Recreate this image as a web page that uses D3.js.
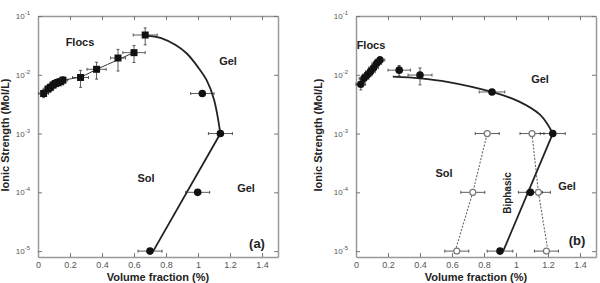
<!DOCTYPE html>
<html>
<head>
<meta charset="utf-8">
<script src="https://cdn.jsdelivr.net/npm/d3@7"></script>
<style>
  body { margin: 0; background: #fff; }
  text { font-family: "Liberation Sans", Arial, sans-serif; }
</style>
</head>
<body>
<script>
const width = 600;
const height = 283;

// ---- data ----
const xTicks = [0, 0.2, 0.4, 0.6, 0.8, 1, 1.2, 1.4];
const yTicks = [1e-1, 1e-2, 1e-3, 1e-4, 1e-5];

// panel (a): [volume fraction, ionic strength, x error, y error (relative)]
const flocsA = [
  [0.035, 0.0048, 0.03, 0.15], [0.062, 0.0057, 0.03, 0.15], [0.077, 0.0061, 0.03, 0.15],
  [0.094, 0.0067, 0.03, 0.15], [0.108, 0.0071, 0.03, 0.15], [0.123, 0.0074, 0.03, 0.15],
  [0.14, 0.0076, 0.03, 0.15], [0.156, 0.0081, 0.03, 0.15], [0.266, 0.0090, 0.05, 0.32],
  [0.366, 0.0124, 0.06, 0.32], [0.5, 0.0193, 0.047, 0.4], [0.6, 0.0238, 0.07, 0.32],
  [0.67, 0.0475, 0.075, 0.32]
];
const gelA = [[1.027, 0.0048, 0.073, 0], [1.14, 0.001, 0.075, 0], [0.998, 1e-4, 0.075, 0], [0.70, 1e-5, 0.075, 0]];
const flocsFitA = [[0.03, 0.0047], [0.15, 0.0078], [0.27, 0.0093], [0.37, 0.0125], [0.5, 0.018], [0.6, 0.024]];
const gelCurveA = [[0.67, 0.047], [0.77, 0.042], [0.86, 0.032], [0.93, 0.023], [1.0, 0.0135], [1.054, 0.0081], [1.10, 0.0038], [1.14, 0.001]];
const gelLineA = [[0.72, 1e-5], [1.14, 1e-3]];

// panel (b)
const flocsB = [
  [0.03, 0.0069, 0.03, 0.2], [0.05, 0.0087, 0.03, 0.15], [0.07, 0.0099, 0.03, 0.15],
  [0.09, 0.0113, 0.03, 0.15], [0.11, 0.0132, 0.03, 0.15], [0.13, 0.0157, 0.03, 0.15],
  [0.15, 0.0178, 0.03, 0.15], [0.27, 0.012, 0.07, 0.2], [0.40, 0.0099, 0.075, 0.32]
];
const gelB = [[0.85, 0.0051, 0.08, 0], [1.23, 0.001, 0.078, 0], [1.09, 1e-4, 0.075, 0], [0.90, 1e-5, 0.08, 0]];
const openB = [[0.82, 1e-3, 0.075], [1.10, 1e-3, 0.075], [0.73, 1e-4, 0.075], [1.14, 1e-4, 0.075], [0.63, 1e-5, 0.075], [1.19, 1e-5, 0.075]];
const gelCurveB = [[0.23, 0.0093], [0.40, 0.0087], [0.57, 0.0076], [0.85, 0.0051], [1.02, 0.0035], [1.15, 0.0021], [1.20, 0.0014], [1.23, 0.001]];
const gelLineB = [[0.92, 1e-5], [1.23, 1e-3]];
const solLineB = [[0.62, 1e-5], [0.73, 1e-4], [0.82, 1e-3]];
const biphLineB = [[1.10, 1e-3], [1.14, 1e-4], [1.20, 1e-5]];

const svg = d3.select('body')
    .append('svg')
    .attr('width', width)
    .attr('height', height);

function panel(x0, opts) {
    const x = d3.scaleLinear().domain([0, 1.5]).range([x0, x0 + 240]);
    const y = d3.scaleLog().domain([Math.pow(10, -5.1), 0.1]).range([257, 16]);
    const g = svg.append('g');

    // frame + ticks
    const supFmt = sel => {
        sel.selectAll('.tick text').each(function(d) {
            const t = d3.select(this).text(null);
            t.append('tspan').text('10');
            t.append('tspan').attr('font-size', 6).attr('dy', -4)
                .text(Math.round(Math.log10(d)));
        });
    };
    const styleAxis = sel => {
        sel.select('.domain').attr('stroke', '#999').attr('stroke-width', 1.5);
        sel.selectAll('.tick line').attr('stroke', '#777');
        sel.selectAll('.tick text').attr('fill', '#555').attr('font-size', 9);
    };
    g.append('g').attr('transform', 'translate(0,257)')
        .call(d3.axisBottom(x).tickValues(xTicks).tickSizeInner(-4).tickSizeOuter(0).tickPadding(5).tickFormat(d3.format('')))
        .call(styleAxis);
    g.append('g').attr('transform', 'translate(0,16)')
        .call(d3.axisTop(x).tickValues(xTicks).tickSizeInner(-4).tickSizeOuter(0).tickFormat(''))
        .call(styleAxis);
    g.append('g').attr('transform', `translate(${x0},0)`)
        .call(d3.axisLeft(y).tickValues(yTicks).tickSizeInner(-4).tickSizeOuter(0).tickPadding(8))
        .call(styleAxis).call(supFmt)
        .selectAll('.tick text').attr('font-size', 8);
    g.append('g').attr('transform', `translate(${x0 + 240},0)`)
        .call(d3.axisRight(y).tickValues(yTicks).tickSizeInner(-4).tickSizeOuter(0).tickFormat(''))
        .call(styleAxis);

    const line = d3.line().x(d => x(d[0])).y(d => y(d[1]));
    const curve = d3.line().x(d => x(d[0])).y(d => y(d[1])).curve(d3.curveCatmullRom);

    (opts.dashed || []).forEach(pts => {
        g.append('path').attr('d', line(pts)).attr('fill', 'none')
            .attr('stroke', '#666').attr('stroke-width', 1.1).attr('stroke-dasharray', '2,1.5');
    });
    if (opts.fit) {
        g.append('path').attr('d', curve(opts.fit)).attr('fill', 'none')
            .attr('stroke', '#333').attr('stroke-width', 1);
    }
    g.append('path').attr('d', curve(opts.curve)).attr('fill', 'none')
        .attr('stroke', '#222').attr('stroke-width', 1.8);
    g.append('path').attr('d', line(opts.line)).attr('fill', 'none')
        .attr('stroke', '#222').attr('stroke-width', 1.8);

    // error bars
    const bars = g.append('g').attr('stroke', '#333').attr('stroke-width', 0.8);
    const allPts = opts.filled.concat(opts.open || []);
    allPts.forEach(d => {
        const cy = y(d[1]);
        const xl = x(d[0] - d[2]), xr = x(d[0] + d[2]);
        bars.append('line').attr('x1', xl).attr('x2', xr).attr('y1', cy).attr('y2', cy);
        bars.append('line').attr('x1', xl).attr('x2', xl).attr('y1', cy - 1.5).attr('y2', cy + 1.5);
        bars.append('line').attr('x1', xr).attr('x2', xr).attr('y1', cy - 1.5).attr('y2', cy + 1.5);
        if (d[3]) {
            const cx = x(d[0]);
            const yt = y(d[1] * (1 + d[3])), yb = y(d[1] * (1 - d[3]));
            bars.append('line').attr('x1', cx).attr('x2', cx).attr('y1', yt).attr('y2', yb);
            bars.append('line').attr('x1', cx - 1.5).attr('x2', cx + 1.5).attr('y1', yt).attr('y2', yt);
            bars.append('line').attr('x1', cx - 1.5).attr('x2', cx + 1.5).attr('y1', yb).attr('y2', yb);
        }
    });

    // markers
    if (opts.squares) {
        g.append('g').selectAll('rect').data(opts.squares).enter().append('rect')
            .attr('x', d => x(d[0]) - 3.5).attr('y', d => y(d[1]) - 3.5)
            .attr('width', 7).attr('height', 7).attr('fill', '#111');
    }
    g.append('g').selectAll('circle').data(opts.circles).enter().append('circle')
        .attr('cx', d => x(d[0])).attr('cy', d => y(d[1])).attr('r', 3.8).attr('fill', '#111');
    g.append('g').selectAll('circle').data(opts.open || []).enter().append('circle')
        .attr('cx', d => x(d[0])).attr('cy', d => y(d[1])).attr('r', 3)
        .attr('fill', '#fff').attr('stroke', '#777').attr('stroke-width', 1.2);

    // texts
    opts.labels.forEach(l => {
        const t = g.append('text').attr('x', l[1]).attr('y', l[2])
            .attr('text-anchor', 'middle').attr('dominant-baseline', 'central')
            .attr('font-weight', 'bold').attr('font-size', l[3] || 11).attr('fill', '#222')
            .text(l[0]);
        if (l[4]) t.attr('transform', `rotate(-90,${l[1]},${l[2]})`);
    });
    g.append('text').attr('x', x0 + 120).attr('y', 277)
        .attr('text-anchor', 'middle').attr('dominant-baseline', 'central')
        .attr('font-weight', 'bold').attr('font-size', 11).attr('fill', '#222')
        .text('Volume fraction (%)');
    g.append('text').attr('transform', `translate(${opts.ylabelX},135) rotate(-90)`)
        .attr('text-anchor', 'middle').attr('dominant-baseline', 'central')
        .attr('font-weight', 'bold').attr('font-size', 11).attr('fill', '#222')
        .text('Ionic Strength (Mol/L)');
}

panel(38, {
    squares: flocsA,
    circles: gelA,
    filled: flocsA.concat(gelA),
    fit: flocsFitA,
    curve: gelCurveA,
    line: gelLineA,
    ylabelX: 5,
    labels: [['Flocs', 80, 42], ['Gel', 228, 61], ['Sol', 146, 178], ['Gel', 246, 188], ['(a)', 257, 243, 13]]
});

panel(356, {
    circles: flocsB.concat(gelB),
    filled: flocsB.concat(gelB),
    open: openB,
    curve: gelCurveB,
    line: gelLineB,
    dashed: [solLineB, biphLineB],
    ylabelX: 318,
    labels: [['Flocs', 371, 45], ['Gel', 540, 79], ['Sol', 444, 173], ['Gel', 567, 186],
             ['Biphasic', 507, 193, 10, true], ['(b)', 577, 240, 13]]
});
</script>
</body>
</html>
